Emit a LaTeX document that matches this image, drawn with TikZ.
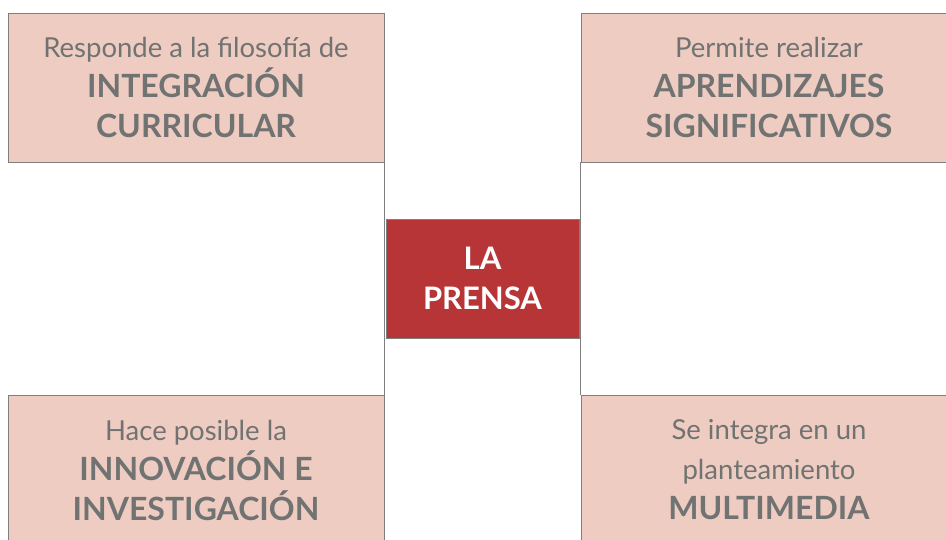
\documentclass[tikz,border=0pt]{standalone}
\usepackage{fontspec}
\setmainfont{Lato}
\definecolor{boxfill}{HTML}{EECCC1}
\definecolor{boxtext}{HTML}{707372}
\definecolor{centrefill}{HTML}{B83537}
\definecolor{edgegray}{HTML}{7F7F7F}
\tikzset{
	idea/.style={draw=edgegray, thick, fill=boxfill, text=boxtext, minimum width=376pt, minimum height=149pt, align=center, font=\fontsize{27.5}{40}\selectfont, inner sep=0pt},
	centre/.style={draw=edgegray, thick, fill=centrefill, text=white, minimum width=193pt, minimum height=119pt, align=center, font=\fontsize{31}{40}\selectfont\bfseries, inner sep=0pt}
}
\newcommand{\keyword}[1]{{\fontsize{32}{40}\selectfont\bfseries #1}}
\begin{document}
\begin{tikzpicture}[x=1pt, y=-1pt]
		\useasboundingbox (0,0) rectangle (946,540);
		\clip (0,0) rectangle (946,540);
		\node (tl)[idea] at (196,87.5) {Responde a la filosofía de\\\keyword{INTEGRACIÓN}\\\keyword{CURRICULAR}};
		\node (tr)[idea] at (769,87.5) {Permite realizar\\\keyword{APRENDIZAJES}\\\keyword{SIGNIFICATIVOS}};
		\node (bl)[idea] at (196,470) {Hace posible la\\\keyword{INNOVACIÓN E}\\\keyword{INVESTIGACIÓN}};
		\node (br)[idea] at (769,470) {Se integra en un\\planteamiento\\\keyword{MULTIMEDIA}};
		\node (c)[centre] at (482.5,278.5) {LA\\PRENSA};
		\draw [edgegray, thick](tl.south east)--(bl.north east);
		\draw [edgegray, thick](tr.south west)--(br.north west);
	\end{tikzpicture}
\end{document}
